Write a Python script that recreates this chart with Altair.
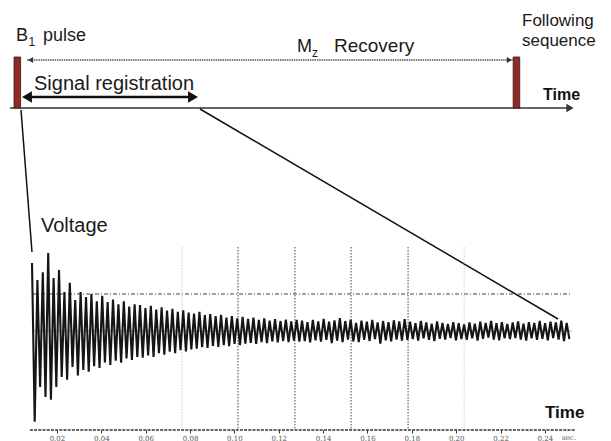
import altair as alt
import numpy as np
import pandas as pd

# ---------------- data ----------------
# sequence diagram (time in s of the sequence, level in pulse heights)
pulse_t = [0.0, 0.70]                 # B1 pulse, following sequence
pulse_halfwidth = 0.0046
axis_t = [-0.0102, 0.7751]
mz_arrow_t = [0.0136, 0.6951]
mz_level = 0.941
reg_arrow_t = [0.0052, 0.2548]
reg_head_t = [0.0136, 0.2464]
reg_level = 0.216
zoom1_t = [0.0052, 0.0206]
zoom1_l = [-0.039, -2.824]
zoom2_t = [0.2562, 0.7583]
zoom2_l = [-0.0196, -4.137]

# oscillogram: voltage peaks of each cycle
tops = [1.84, 1.38, 1.59, 2.11, 1.43, 1.65, 1.05, 1.30, 0.84, 1.05,
        0.92, 1.00, 0.80, 0.95, 0.78, 0.85, 0.72, 0.80, 0.66, 0.72,
        0.70, 0.62, 0.68, 0.58, 0.64, 0.55, 0.60, 0.52, 0.56, 0.50,
        0.47, 0.52, 0.43, 0.46, 0.40, 0.44, 0.36, 0.40, 0.34, 0.38,
        0.33, 0.36, 0.30, 0.34, 0.28, 0.32, 0.27, 0.31, 0.26, 0.30,
        0.28, 0.24, 0.30, 0.26, 0.33, 0.25, 0.29, 0.35, 0.27, 0.31,
        0.22, 0.28, 0.25, 0.30, 0.23, 0.27, 0.24, 0.29, 0.26, 0.32,
        0.25, 0.21, 0.27, 0.23, 0.20, 0.26, 0.22, 0.19, 0.24, 0.21,
        0.18, 0.23, 0.20, 0.25, 0.22, 0.27, 0.21, 0.24, 0.19, 0.23,
        0.26, 0.20, 0.24, 0.22, 0.27, 0.21, 0.25, 0.23, 0.28, 0.22]
bottoms = [-2.45, -1.51, -1.78, -1.86, -1.51, -1.24, -1.32, -0.97, -1.20, -1.05,
           -1.10, -0.95, -1.00, -0.85, -0.92, -0.80, -0.86, -0.74, -0.78, -0.70,
           -0.72, -0.66, -0.70, -0.60, -0.64, -0.56, -0.60, -0.52, -0.55, -0.50,
           -0.48, -0.44, -0.46, -0.40, -0.43, -0.38, -0.41, -0.35, -0.38, -0.34,
           -0.32, -0.35, -0.30, -0.33, -0.28, -0.31, -0.27, -0.30, -0.26, -0.29,
           -0.27, -0.31, -0.25, -0.29, -0.24, -0.33, -0.26, -0.30, -0.23, -0.28,
           -0.30, -0.24, -0.27, -0.22, -0.34, -0.25, -0.28, -0.23, -0.26, -0.24,
           -0.22, -0.26, -0.20, -0.24, -0.27, -0.21, -0.23, -0.19, -0.25, -0.22,
           -0.24, -0.20, -0.26, -0.21, -0.18, -0.23, -0.25, -0.20, -0.22, -0.19,
           -0.23, -0.26, -0.20, -0.24, -0.21, -0.25, -0.19, -0.23, -0.27, -0.22]
trace_start = 0.00875      # s
cycle_period = 0.002435    # s
trace_span = [0.00875, 0.2522]
ref_level = 1.0
grid_dark = [0.1016, 0.1273, 0.1526, 0.1783]
grid_light = [0.0764, 0.2036]
grid_v = [2.27, -2.676]
osc_axis_t = [0.0078, 0.2536]
osc_axis_v = -2.676
tick_values = [0.02, 0.04, 0.06, 0.08, 0.10, 0.12, 0.14, 0.16, 0.18, 0.20, 0.22, 0.24]

# ---------------- scales ----------------
DX = alt.Scale(domain=[-0.02426, 0.83257], nice=False, zero=False)
DY = alt.Scale(domain=[-6.5294, 2.1176], nice=False, zero=False)
OX = alt.Scale(domain=[-0.005681, 0.269793], nice=False, zero=False)
OY = alt.Scale(domain=[-2.97297, 8.9459], nice=False, zero=False)

def dx(f): return alt.X(f, type="quantitative", scale=DX, axis=None)
def dy(f): return alt.Y(f, type="quantitative", scale=DY, axis=None)
def ox(f): return alt.X(f, type="quantitative", scale=OX, axis=None)
def oy(f): return alt.Y(f, type="quantitative", scale=OY, axis=None)

DARK = "#1a1a1a"
FONT = "Liberation Sans"

layers = []

# --- top diagram ---
seg = lambda a, b, la, lb: pd.DataFrame({"t": a, "t2": b, "l": la, "l2": lb}, index=[0])

axis_df = seg(axis_t[0], axis_t[1], 0.0, 0.0)
layers.append(alt.Chart(axis_df).mark_rule(color="#333333", strokeWidth=1.6).encode(
    x=dx("t"), x2="t2", y=dy("l")))
layers.append(alt.Chart(pd.DataFrame({"t": [axis_t[1]], "l": [0.0]})).mark_point(
    shape="triangle-right", filled=True, color="#333333", size=70, opacity=1).encode(
    x=dx("t"), y=dy("l")))

mz_df = seg(mz_arrow_t[0], mz_arrow_t[1], mz_level, mz_level)
layers.append(alt.Chart(mz_df).mark_rule(color="#555555", strokeWidth=1.3, strokeDash=[1.5, 0.8]).encode(
    x=dx("t"), x2="t2", y=dy("l")))
layers.append(alt.Chart(pd.DataFrame({"t": [mz_arrow_t[0] + 0.005], "l": [mz_level]})).mark_point(
    shape="triangle-left", filled=True, color="#333333", size=35, opacity=1).encode(x=dx("t"), y=dy("l")))
layers.append(alt.Chart(pd.DataFrame({"t": [mz_arrow_t[1] - 0.005], "l": [mz_level]})).mark_point(
    shape="triangle-right", filled=True, color="#333333", size=35, opacity=1).encode(x=dx("t"), y=dy("l")))

reg_df = seg(reg_arrow_t[0] + 0.006, reg_arrow_t[1] - 0.006, reg_level, reg_level)
layers.append(alt.Chart(reg_df).mark_rule(color="#111111", strokeWidth=2.6).encode(
    x=dx("t"), x2="t2", y=dy("l")))
layers.append(alt.Chart(pd.DataFrame({"t": [reg_head_t[0]], "l": [reg_level]})).mark_point(
    shape="triangle-left", filled=True, color="#111111", size=130, opacity=1).encode(x=dx("t"), y=dy("l")))
layers.append(alt.Chart(pd.DataFrame({"t": [reg_head_t[1]], "l": [reg_level]})).mark_point(
    shape="triangle-right", filled=True, color="#111111", size=130, opacity=1).encode(x=dx("t"), y=dy("l")))

pulses = pd.DataFrame({"t": [p - pulse_halfwidth for p in pulse_t],
                       "t2": [p + pulse_halfwidth for p in pulse_t],
                       "l": [0.0, 0.0], "l2": [1.0, 1.0]})
layers.append(alt.Chart(pulses).mark_rect(color="#8E2B27", stroke="#3b1512", strokeWidth=0.8).encode(
    x=dx("t"), x2="t2", y=dy("l"), y2="l2"))

for tt, ll in [(zoom1_t, zoom1_l), (zoom2_t, zoom2_l)]:
    zdf = pd.DataFrame({"t": tt, "l": ll, "o": [0, 1]})
    layers.append(alt.Chart(zdf).mark_line(color="#111111", strokeWidth=1.5).encode(
        x=dx("t"), y=dy("l"), order="o"))

# --- oscillogram ---
ref_df = pd.DataFrame({"t": [trace_span[0]], "t2": [trace_span[1]], "v": [ref_level]})
layers.append(alt.Chart(ref_df).mark_rule(color="#444444", strokeWidth=1, strokeDash=[4, 2, 1, 2]).encode(
    x=ox("t"), x2="t2", y=oy("v")))
zero_df = pd.DataFrame({"t": [trace_span[0]], "t2": [trace_span[1]], "v": [0.0]})
layers.append(alt.Chart(zero_df).mark_rule(color="#9a9a9a", strokeWidth=0.8).encode(
    x=ox("t"), x2="t2", y=oy("v")))

gl_df = pd.DataFrame({"t": grid_light, "v": grid_v[0], "v2": grid_v[1]})
layers.append(alt.Chart(gl_df).mark_rule(color="#cfcfcf", strokeWidth=1, strokeDash=[1.5, 1.5]).encode(
    x=ox("t"), y=oy("v"), y2="v2"))
gd_df = pd.DataFrame({"t": grid_dark, "v": grid_v[0], "v2": grid_v[1]})
layers.append(alt.Chart(gd_df).mark_rule(color="#444444", strokeWidth=1, strokeDash=[1.5, 1.5]).encode(
    x=ox("t"), y=oy("v"), y2="v2"))

n = len(tops)
idx = np.arange(n)
trace = pd.DataFrame({
    "t": np.concatenate([trace_start + idx * cycle_period, trace_start + (idx + 0.5) * cycle_period]),
    "v": np.concatenate([tops, bottoms]),
})
trace = trace.sort_values("t").reset_index(drop=True)
trace["o"] = np.arange(len(trace))
layers.append(alt.Chart(trace).mark_line(color="#151515", strokeWidth=2.1, strokeJoin="miter").encode(
    x=alt.X("t:Q", scale=OX,
            axis=alt.Axis(values=tick_values, format=".2f", offset=-11, domain=False, grid=False,
                          tickSize=3, tickColor="#333333", tickWidth=1,
                          labelFontSize=7, labelFont="DejaVu Serif", labelColor="#555555",
                          labelPadding=1, title=None)),
    y=oy("v"), order="o"))

oax_df = pd.DataFrame({"t": [osc_axis_t[0]], "t2": [osc_axis_t[1]], "v": [osc_axis_v]})
layers.append(alt.Chart(oax_df).mark_rule(color="#333333", strokeWidth=1.6, strokeDash=[3, 1.2]).encode(
    x=ox("t"), x2="t2", y=oy("v")))

# --- texts ---
def txt(s, x, y, size, weight="normal", color=DARK, font=FONT):
    return alt.Chart(pd.DataFrame({"s": [s]})).mark_text(
        align="left", baseline="alphabetic", fontSize=size, fontWeight=weight,
        font=font, color=color).encode(x=alt.value(x), y=alt.value(y), text="s:N")

layers += [
    txt("B", 16, 41, 18), txt("1", 28.5, 46, 12), txt("pulse", 43, 41, 18),
    txt("M", 297, 52, 18), txt("z", 312, 57, 12), txt("Recovery", 334, 52, 19),
    txt("Following", 522, 26, 17), txt("sequence", 522, 46, 17),
    txt("Time", 543, 100, 16, "bold", "#111111"),
    txt("Signal registration", 34, 90, 20),
    txt("Voltage", 41, 232, 20),
    txt("Time", 545, 418, 17, "bold", "#111111"),
    txt("sec.", 562, 440, 7, color="#555555", font="DejaVu Serif"),
]

chart = alt.layer(*layers).resolve_scale(x="independent", y="independent").properties(
    width=611, height=441, padding=0, autosize=alt.AutoSizeParams(type="none"),
    background="white",
).configure_view(stroke=None)

chart.save("out.html", embed_options={"renderer": "svg", "actions": False})
